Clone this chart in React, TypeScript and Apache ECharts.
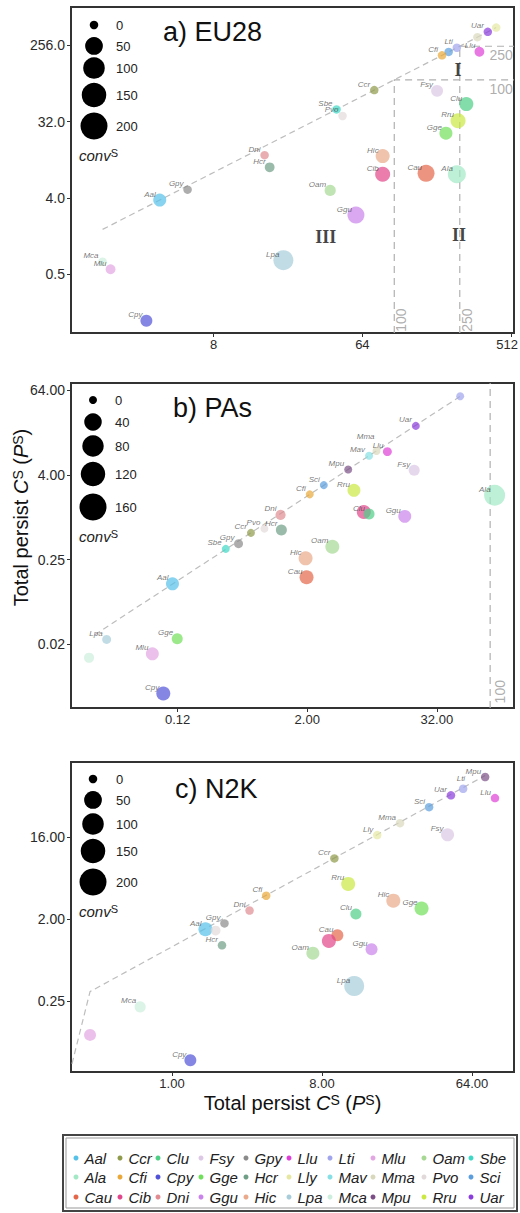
import React, { useEffect, useRef } from "react";
import * as echarts from "echarts";

// ---------- species & colours ----------
const speciesOrder = ["Aal","Ala","Cau","Ccr","Cfi","Cib","Clu","Cpy","Dni","Fsy","Gge","Ggu","Gpy","Hcr","Hic","Llu","Lly","Lpa","Lti","Mav","Mca","Mlu","Mma","Mpu","Oam","Pvo","Rru","Sbe","Sci","Uar"];
const speciesColors = ["#56c1e8","#a3e8c6","#e4664a","#8f9a4a","#eaa838","#e2468a","#4ecf86","#5151d8","#e08c90","#dcc8e4","#70e05a","#c983ea","#8a8a8a","#6f9e86","#eaa98a","#de3ed6","#e6e8a2","#a8cdda","#a0a4ec","#86dfe4","#cdeedd","#e2a6e2","#d8d8bc","#7b4e86","#a6d894","#e2dada","#cbe842","#3ed8c6","#5b9ede","#8a3cdc"];

// ---------- a) EU28 ----------
const euNames = ["Lly","Uar","Mma","Lti","Sci","Cfi","Llu","Ccr","Fsy","Clu","Rru","Gge","Sbe","Pvo","Dni","Hcr","Hic","Cib","Cau","Ala","Oam","Gpy","Aal","Ggu","Lpa","Mca","Mlu","Cpy"];
const euX = [416, 370, 320, 240, 214, 195, 329, 75.6, 182, 274, 244, 206, 44.6, 48.5, 16.3, 17.5, 85, 85, 156, 240, 40.8, 5.55, 3.76, 58.5, 21.2, 1.69, 1.89, 3.12];
const euY = [416, 370, 320, 240, 214, 195, 215, 75.6, 74, 51.6, 32.7, 23.3, 44.6, 37.3, 12.8, 9.2, 12.5, 7.6, 7.8, 7.6, 4.9, 5.0, 3.76, 2.5, 0.73, 0.70, 0.57, 0.14];
const euConv = [0, 0, 0, 0, 0, 0, 1, 0, 7, 18, 25, 12, 0, 0, 0, 1, 18, 25, 42, 53, 4, 0, 12, 42, 77, 0, 1, 7];
const euHidden = ["Lly", "Mma", "Sci"];
const euLineX = [1.69, 416];
const euLineY = [1.69, 416];
const euThresholds = [100, 250];
const euRoman = ["I", "II", "III"];
const euRomanX = [244, 247, 38.3];
const euRomanY = [131, 1.44, 1.37];
const euXTicks = [8, 64, 512];
const euXTickLabels = ["8", "64", "512"];
const euYTicks = [0.5, 4, 32, 256];
const euYTickLabels = ["0.5", "4.0", "32.0", "256.0"];
const euSizeBreaks = [0, 50, 100, 150, 200];

// ---------- b) PAs ----------
const paNames = ["Lti","Uar","Llu","Mav","Mma","Mpu","Fsy","Sci","Cfi","Rru","Ala","Cib","Clu","Ggu","Dni","Ccr","Pvo","Hcr","Gpy","Sbe","Oam","Hic","Cau","Aal","Lpa","Gge","Mca","Mlu","Cpy"];
const paX = [52.7, 20.4, 11.1, 7.5, 8.8, 4.8, 19.7, 2.85, 2.11, 5.43, 110, 6.7, 7.5, 16.1, 1.13, 0.60, 0.80, 1.15, 0.46, 0.35, 3.42, 1.93, 1.97, 0.112, 0.0274, 0.124, 0.0188, 0.0728, 0.092];
const paY = [52.7, 20.0, 8.6, 7.5, 8.8, 4.8, 4.66, 2.87, 2.12, 2.42, 2.06, 1.19, 1.11, 1.03, 1.08, 0.60, 0.69, 0.66, 0.42, 0.355, 0.38, 0.26, 0.14, 0.113, 0.0182, 0.0186, 0.0100, 0.0114, 0.0031];
const paConv = [0, 0, 0.4, 0, 0, 0, 4, 0, 0, 11, 75, 16, 4, 11, 2, 0, 0, 4, 0.4, 0, 16, 16, 16, 11, 0.4, 4, 2, 11, 16];
const paHidden = ["Lti", "Mca", "Cib"];
const paLineX = [0.0213, 52.3];
const paLineY = [0.0213, 52.3];
const paThresholds = [100];
const paXTicks = [0.125, 2, 32];
const paXTickLabels = ["0.12", "2.00", "32.00"];
const paYTicks = [0.015625, 0.25, 4, 64];
const paYTickLabels = ["0.02", "0.25", "4.00", "64.00"];
const paSizeBreaks = [0, 40, 80, 120, 160];

// ---------- c) N2K ----------
const n2kNames = ["Mpu","Lti","Uar","Llu","Sci","Mma","Lly","Fsy","Ccr","Rru","Cfi","Hic","Gge","Dni","Clu","Gpy","Aal","Pvo","Hcr","Cau","Cib","Ggu","Oam","Lpa","Mca","Mlu","Cpy"];
const n2kX = [76.8, 56.6, 47.8, 88, 35.3, 23.6, 17.2, 45.6, 9.5, 11.5, 3.69, 21.5, 31.8, 2.93, 12.8, 2.07, 1.59, 1.83, 2.0, 9.9, 8.8, 15.9, 7.05, 12.5, 0.643, 0.321, 1.29];
const n2kY = [74, 55, 46.5, 43.4, 34.5, 23, 17, 17.1, 9.4, 4.92, 3.65, 3.22, 2.64, 2.51, 2.30, 1.81, 1.56, 1.51, 1.04, 1.34, 1.16, 0.94, 0.85, 0.37, 0.218, 0.107, 0.0563];
const n2kConv = [0, 0, 0, 0, 0, 0, 0, 12, 0, 18, 0, 18, 18, 0, 4, 0, 18, 1, 0, 7, 18, 7, 12, 77, 4, 7, 7];
const n2kHidden = ["Mlu", "Pvo", "Cib"];
const n2kLineX = [0.25, 0.321, 76.8];
const n2kLineY = [0.0515, 0.321, 76.8];
const n2kXTicks = [1, 8, 64];
const n2kXTickLabels = ["1.00", "8.00", "64.00"];
const n2kYTicks = [0.25, 2, 16];
const n2kYTickLabels = ["0.25", "2.00", "16.00"];
const n2kSizeBreaks = [0, 50, 100, 150, 200];

// ---------- styling helpers ----------
const FONT = "'Liberation Sans', Arial, sans-serif";
const sizeA = (v: number) => 8.5 + 18.5 * Math.sqrt(v / 200);
const sizeB = (v: number) => 8 + 19 * Math.sqrt(v / 160);
const labelNudge: Record<string, Record<string, number[]>> = {
  b: { Mma: [-2, -14] },
  c: { Lti: [2, -10] },
};

const colorOf = (n: string) => speciesColors[speciesOrder.indexOf(n)];

// edgePad > 0 shifts the last tick label slightly left so it stays inside the canvas
const tickFormatter = (ticks: number[], labels: string[], edgePad: number) => (v: number) => {
  const i = ticks.findIndex((t) => Math.abs(Math.log2(t) - Math.log2(v)) < 1e-6);
  if (i < 0) return "";
  if (edgePad > 0 && i === ticks.length - 1) return "{e|" + labels[i] + "}";
  return labels[i];
};

const axisTitle = "{n|Total persist }{i|C}{s|S}{n| (}{i|P}{s|S}{n|)}";
const titleRich = (fs: number, ss: number) => ({
  n: { fontSize: fs, color: "#111", fontFamily: FONT },
  i: { fontSize: fs, color: "#111", fontStyle: "italic", fontFamily: FONT },
  s: { fontSize: ss, color: "#111", verticalAlign: "top", fontFamily: FONT },
});

function makeAxis(gridIndex: number, min: number, max: number, ticks: number[], labels: string[], isX: boolean, extra: any = {}, edgePad = 0) {
  const fs = isX ? 13 : 14;
  return {
    type: "log",
    logBase: 2,
    gridIndex,
    min,
    max,
    nameMoveOverlap: false,
    axisLine: { show: false },
    splitLine: { show: false },
    axisTick: { show: true, length: 4, customValues: ticks, lineStyle: { color: "#333", width: 1 } },
    axisLabel: {
      customValues: ticks,
      formatter: tickFormatter(ticks, labels, edgePad),
      color: "#2a2a2a",
      fontSize: fs,
      fontFamily: FONT,
      margin: isX ? 5 : 6,
      rich: { e: { fontSize: fs, color: "#2a2a2a", fontFamily: FONT, padding: [0, edgePad, 0, 0] } },
    },
    ...extra,
  };
}

function pointSeries(idx: number, key: string, names: string[], xs: number[], ys: number[], conv: number[], hidden: string[], sizeFn: (v: number) => number) {
  const nudges = labelNudge[key] || {};
  return {
    type: "scatter",
    xAxisIndex: idx,
    yAxisIndex: idx,
    z: 3,
    data: names.map((n, i) => ({
      name: n,
      value: [xs[i], ys[i], conv[i]],
      itemStyle: { color: colorOf(n), opacity: 0.7 },
      label: nudges[n] ? { show: hidden.indexOf(n) < 0, offset: nudges[n] } : { show: hidden.indexOf(n) < 0 },
    })),
    symbolSize: (v: number[]) => sizeFn(v[2]),
    label: {
      show: true,
      position: "inside",
      align: "right",
      verticalAlign: "middle",
      offset: [-4, -6],
      formatter: "{b}",
      fontSize: 8,
      fontStyle: "italic",
      fontFamily: FONT,
      color: "#3a3a3a",
    },
  };
}

function lineSeries(idx: number, xs: number[], ys: number[], color: string, dash: number[]) {
  return {
    type: "line",
    xAxisIndex: idx,
    yAxisIndex: idx,
    z: 1,
    silent: true,
    symbol: "none",
    showSymbol: false,
    data: xs.map((x, i) => [x, ys[i]]),
    lineStyle: { color, width: 1.2, type: dash },
  };
}

function textSeries(idx: number, items: any[]) {
  return {
    type: "scatter",
    xAxisIndex: idx,
    yAxisIndex: idx,
    z: 2,
    silent: true,
    symbolSize: 1,
    itemStyle: { color: "rgba(0,0,0,0)" },
    data: items,
    label: { show: true, position: "inside", formatter: "{b}", fontFamily: FONT },
  };
}

export default function App() {
  const ref = useRef<HTMLDivElement>(null);

  useEffect(() => {
    if (!ref.current) return;
    const chart = echarts.init(ref.current, undefined, { renderer: "svg" });

    const ext = {
      a: { xMin: 2 ** 0.12, xMax: 2 ** 9.06, yMin: 2 ** -3.32, yMax: 2 ** 9.51 },
      b: { xMin: 2 ** -6.29, xMax: 2 ** 7.38, yMin: 2 ** -9.02, yMax: 2 ** 6.35 },
      c: { xMin: 2 ** -2.02, xMax: 2 ** 6.84, yMin: 2 ** -4.58, yMax: 2 ** 6.76 },
    };

    const threshStyle = { color: "#999", fontSize: 14, fontFamily: FONT };
    const romanStyle = { fontSize: 18, fontWeight: "bold", fontFamily: "'Liberation Serif', 'Times New Roman', serif", color: "#111" };

    const series: any[] = [
      // panel a
      lineSeries(0, euLineX, euLineY, "#bdbdbd", [6, 4]),
      ...euThresholds.map((t) => lineSeries(0, [t, t, ext.a.xMax], [ext.a.yMin, t, t], "#b0b0b0", [7, 5])),
      textSeries(0, [
        ...euThresholds.map((t) => ({ name: String(t), value: [2 ** 8.8, t], label: { ...threshStyle, offset: [0, 9] } })),
        ...euThresholds.map((t) => ({ name: String(t), value: [t, 2 ** -2.81], label: { ...threshStyle, offset: [0, 7], rotate: 90 } })),
        ...euRoman.map((r, i) => ({ name: r, value: [euRomanX[i], euRomanY[i]], label: romanStyle })),
      ]),
      pointSeries(0, "a", euNames, euX, euY, euConv, euHidden, sizeA),
      // panel b
      lineSeries(1, paLineX, paLineY, "#bdbdbd", [6, 4]),
      ...paThresholds.map((t) => lineSeries(1, [t, t], [ext.b.yMin, ext.b.yMax], "#b0b0b0", [7, 5])),
      textSeries(1, paThresholds.map((t) => ({ name: String(t), value: [t, 2 ** -8.25], label: { ...threshStyle, offset: [0, 10], rotate: 90 } }))),
      pointSeries(1, "b", paNames, paX, paY, paConv, paHidden, sizeB),
      // panel c
      lineSeries(2, n2kLineX, n2kLineY, "#bdbdbd", [6, 4]),
      pointSeries(2, "c", n2kNames, n2kX, n2kY, n2kConv, n2kHidden, sizeA),
    ];

    // size legends (layout)
    const sizeLegends = [
      { breaks: euSizeBreaks, fn: sizeA, cx: 94, tx: 116, y0: 25, offs: [0, 21, 43, 70, 101] },
      { breaks: paSizeBreaks, fn: sizeB, cx: 93, tx: 115, y0: 400, offs: [0, 22, 46, 74, 107] },
      { breaks: n2kSizeBreaks, fn: sizeA, cx: 93, tx: 116, y0: 779, offs: [0, 21, 45, 72, 103] },
    ];
    const graphics: any[] = [];
    sizeLegends.forEach((L) => {
      L.breaks.forEach((v, i) => {
        const y = L.y0 + L.offs[i];
        graphics.push({ type: "circle", silent: true, shape: { cx: L.cx, cy: y, r: L.fn(v) / 2 }, style: { fill: "#000" } });
        graphics.push({ type: "text", silent: true, x: L.tx, y, style: { text: String(v), fontSize: 13, fill: "#222", fontFamily: FONT, verticalAlign: "middle" } });
      });
      const cy = L.y0 + L.offs[L.offs.length - 1] + 29;
      graphics.push({
        type: "text", silent: true, x: 79, y: cy,
        style: {
          text: "{c|conv}{s|S}", verticalAlign: "middle",
          rich: {
            c: { fontSize: 15, fontStyle: "italic", fill: "#222", fontFamily: FONT },
            s: { fontSize: 11, fill: "#222", fontFamily: FONT, verticalAlign: "top" },
          },
        },
      });
    });

    // species legend box (layout)
    graphics.push({ type: "rect", silent: true, shape: { x: 63, y: 1135, width: 454, height: 76 }, style: { fill: "#fff", stroke: "#444", lineWidth: 2 } });
    graphics.push({ type: "rect", silent: true, shape: { x: 66, y: 1138, width: 448, height: 70 }, style: { fill: "none", stroke: "#999", lineWidth: 1 } });
    const legCols = [76, 120, 158, 201, 246, 289, 330, 373, 424, 471];
    const legRows = [1158, 1177, 1197];
    speciesOrder.forEach((s, i) => {
      const cx = legCols[Math.floor(i / 3)];
      const cy = legRows[i % 3];
      graphics.push({ type: "circle", silent: true, shape: { cx, cy, r: 2.5 }, style: { fill: speciesColors[i] } });
      graphics.push({ type: "text", silent: true, x: cx + 8.5, y: cy, style: { text: s, fontSize: 15, fontStyle: "italic", fill: "#222", fontFamily: FONT, verticalAlign: "middle" } });
    });

    const gridBase = { left: 71, width: 443, show: true, borderColor: "#333", borderWidth: 2, backgroundColor: "transparent", containLabel: false, outerBoundsMode: "none" };
    const titleStyle = { fontSize: 27, fontWeight: "normal", color: "#111", fontFamily: FONT };

    chart.setOption({
      animation: false,
      textStyle: { fontFamily: FONT },
      title: [
        { text: "a) EU28", left: 163, top: 18, padding: 0, textStyle: titleStyle },
        { text: "b) PAs", left: 173, top: 394, padding: 0, textStyle: titleStyle },
        { text: "c) N2K", left: 175, top: 775, padding: 0, textStyle: titleStyle },
      ],
      grid: [
        { ...gridBase, top: 7, height: 326 },
        { ...gridBase, top: 383, height: 325 },
        { ...gridBase, top: 762, height: 310 },
      ],
      xAxis: [
        makeAxis(0, ext.a.xMin, ext.a.xMax, euXTicks, euXTickLabels, true, {}, 8),
        makeAxis(1, ext.b.xMin, ext.b.xMax, paXTicks, paXTickLabels, true),
        makeAxis(2, ext.c.xMin, ext.c.xMax, n2kXTicks, n2kXTickLabels, true, {
          name: axisTitle, nameLocation: "middle", nameGap: 21, nameTextStyle: { rich: titleRich(20, 14) },
        }),
      ],
      yAxis: [
        makeAxis(0, ext.a.yMin, ext.a.yMax, euYTicks, euYTickLabels, false),
        makeAxis(1, ext.b.yMin, ext.b.yMax, paYTicks, paYTickLabels, false, {
          name: axisTitle, nameLocation: "middle", nameGap: 40, nameRotate: 90,
          nameTextStyle: { rich: titleRich(20, 14), padding: [0, 0, 0, 56] },
        }),
        makeAxis(2, ext.c.yMin, ext.c.yMax, n2kYTicks, n2kYTickLabels, false),
      ],
      series,
      graphic: graphics,
    });

    return () => chart.dispose();
  }, []);

  return <div ref={ref} style={{ position: "absolute", left: 0, top: 0, width: 520, height: 1213 }} />;
}
